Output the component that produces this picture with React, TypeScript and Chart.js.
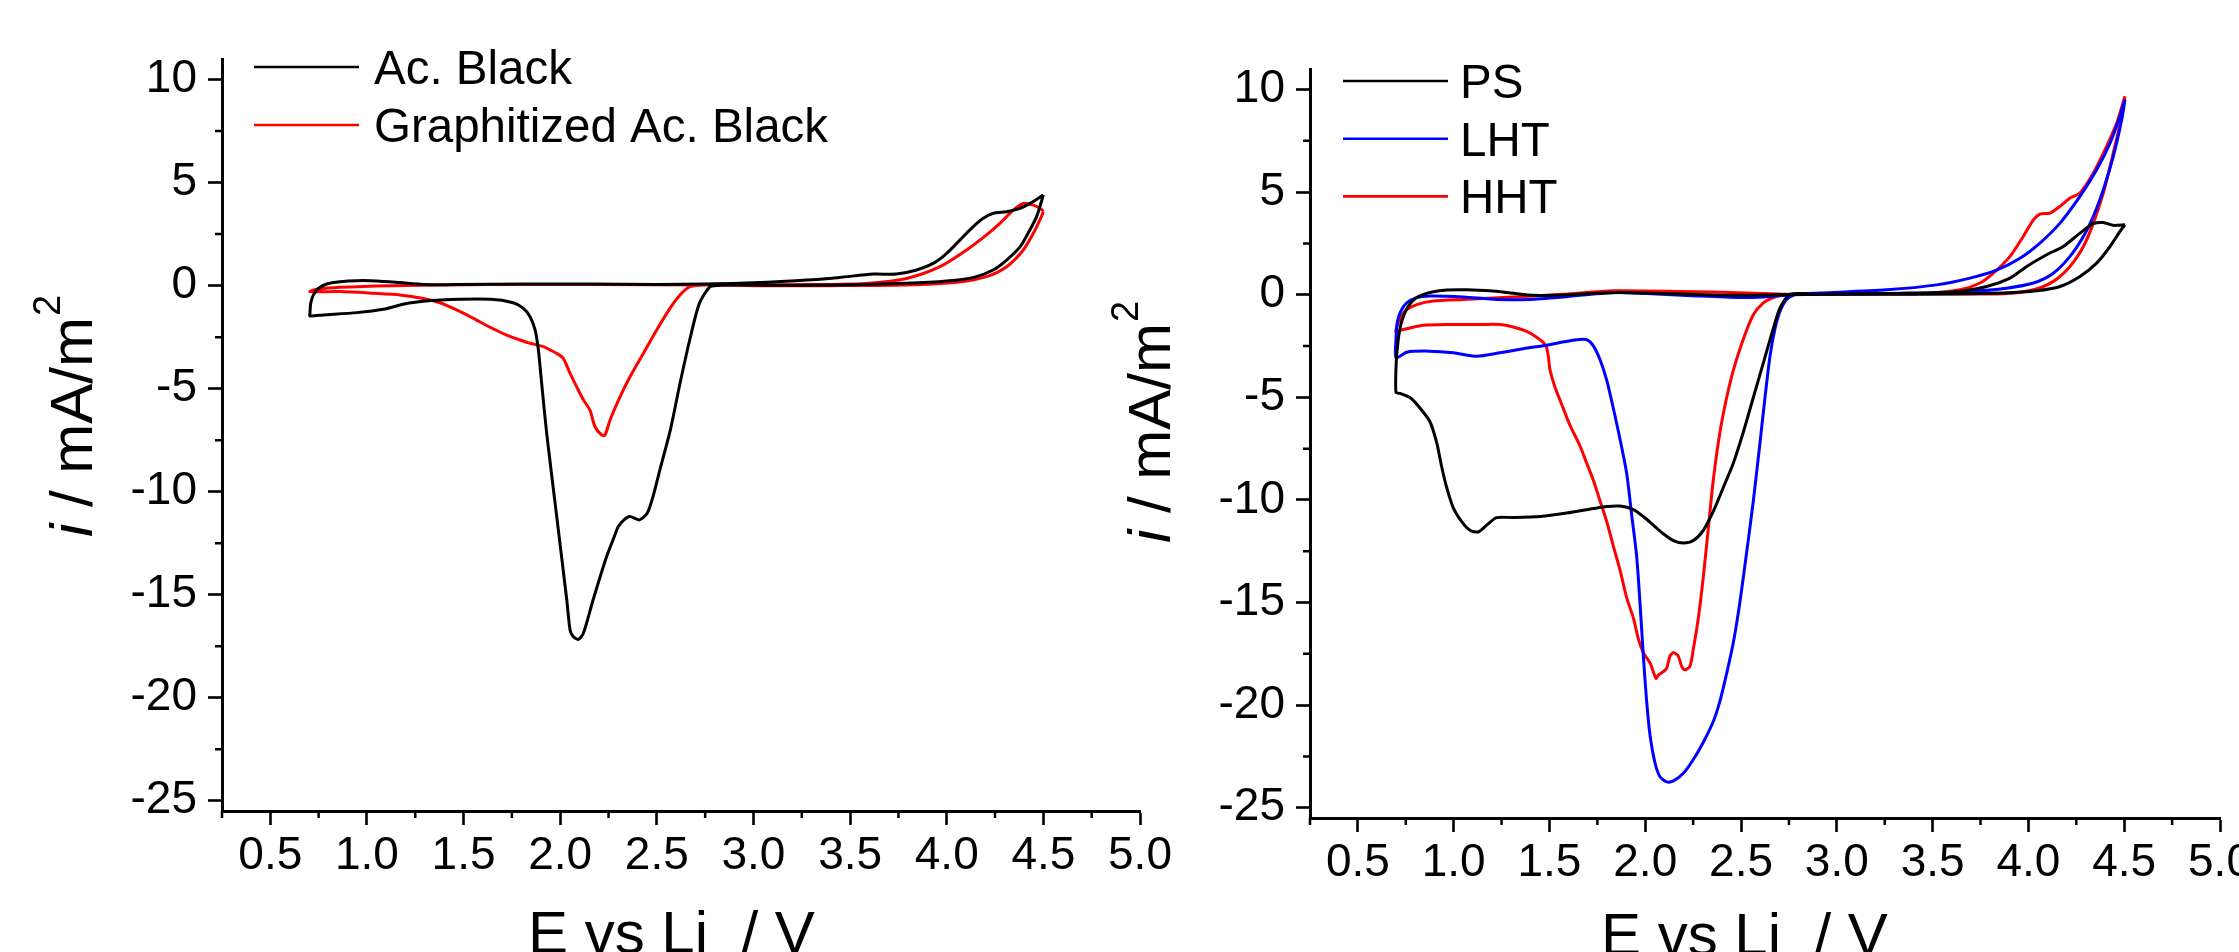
import React, { useEffect, useRef } from 'react';
import { Chart, registerables } from 'chart.js';

Chart.register(...registerables);

const FONT = "'Liberation Sans', Arial, Helvetica, sans-serif";

// ---------- tick values ----------
const xTickValues = [0.5, 1.0, 1.5, 2.0, 2.5, 3.0, 3.5, 4.0, 4.5, 5.0];
const xMinorValues = [0.25, 0.75, 1.25, 1.75, 2.25, 2.75, 3.25, 3.75, 4.25, 4.75];
const yTickValues = [-25, -20, -15, -10, -5, 0, 5, 10];
const yMinorValues = [-22.5, -17.5, -12.5, -7.5, -2.5, 2.5, 7.5];

type Pt = [number, number];

// ---------- left panel data (E / V, i / mA m^-2) ----------
const acBlack: Pt[] = [
  [4.5, 4.4], [4.49, 4.08], [4.465, 3.35], [4.43, 2.7], [4.38, 1.89], [4.31, 1.24],
  [4.24, 0.76], [4.14, 0.4], [4.0, 0.22], [3.79, 0.11], [3.45, 0.03], [3.1, 0.02],
  [2.84, 0.03], [2.81, 0.0], [2.775, -0.05], [2.72, -0.86], [2.67, -2.64], [2.62, -4.74],
  [2.57, -7.0], [2.52, -8.79], [2.48, -10.24], [2.45, -11.05], [2.41, -11.37], [2.36, -11.21],
  [2.33, -11.37], [2.3, -11.7], [2.28, -12.18], [2.24, -13.15], [2.17, -15.26], [2.12, -16.87],
  [2.094, -17.17], [2.068, -17.04], [2.051, -16.71], [2.034, -15.26], [1.982, -11.21],
  [1.93, -7.17], [1.904, -4.74], [1.887, -3.12], [1.87, -2.15], [1.844, -1.51], [1.81, -1.1],
  [1.757, -0.83], [1.64, -0.66], [1.38, -0.7], [1.21, -0.86], [1.085, -1.15], [0.947, -1.31],
  [0.774, -1.42], [0.705, -1.47], [0.705, -1.34], [0.709, -0.86], [0.723, -0.45],
  [0.749, -0.13], [0.792, 0.08], [0.861, 0.19], [0.947, 0.24], [1.05, 0.23], [1.171, 0.15],
  [1.292, 0.06], [1.464, 0.05], [1.809, 0.08], [2.154, 0.08], [2.5, 0.06], [2.93, 0.11],
  [3.275, 0.27], [3.447, 0.4], [3.62, 0.56], [3.74, 0.56], [3.844, 0.76], [3.93, 1.08],
  [4.0, 1.57], [4.068, 2.21], [4.137, 2.86], [4.189, 3.27], [4.241, 3.51], [4.31, 3.59],
  [4.379, 3.75], [4.431, 3.99], [4.482, 4.29], [4.5, 4.4],
];

const graphitized: Pt[] = [
  [4.5, 3.59], [4.49, 3.35], [4.448, 2.54], [4.396, 1.73], [4.31, 0.92], [4.206, 0.44],
  [4.051, 0.16], [3.79, 0.03], [3.4, 0.0], [3.0, 0.0], [2.758, 0.03], [2.672, -0.05],
  [2.62, -0.45], [2.568, -1.1], [2.499, -2.15], [2.43, -3.29], [2.361, -4.42], [2.31, -5.39],
  [2.258, -6.52], [2.232, -7.25], [2.215, -7.25], [2.18, -6.85], [2.154, -6.04], [2.12, -5.55],
  [2.085, -4.9], [2.051, -4.26], [2.016, -3.53], [1.982, -3.29], [1.947, -3.12], [1.913, -2.96],
  [1.844, -2.8], [1.792, -2.64], [1.723, -2.4], [1.637, -2.02], [1.551, -1.59], [1.464, -1.18],
  [1.378, -0.83], [1.292, -0.62], [1.171, -0.45], [1.033, -0.37], [0.861, -0.29], [0.705, -0.29],
  [0.74, -0.18], [0.86, -0.08], [1.12, 0.0], [1.637, 0.06], [2.2, 0.05], [2.8, 0.03],
  [3.3, 0.05], [3.6, 0.12], [3.792, 0.35], [3.965, 0.92], [4.103, 1.73], [4.206, 2.46],
  [4.275, 3.02], [4.344, 3.67], [4.396, 3.99], [4.448, 3.91], [4.491, 3.7], [4.5, 3.59],
];

// ---------- right panel data ----------
const ps: Pt[] = [
  [4.504, 3.41], [4.478, 3.09], [4.426, 2.35], [4.356, 1.54], [4.269, 0.89], [4.165, 0.4],
  [4.043, 0.19], [3.869, 0.08], [3.608, 0.03], [3.2, 0.02], [2.9, 0.02], [2.756, 0.02],
  [2.703, -0.65], [2.668, -1.66], [2.616, -3.33], [2.564, -5.01], [2.512, -6.69], [2.46, -8.2],
  [2.408, -9.38], [2.355, -10.56], [2.303, -11.48], [2.251, -11.98], [2.199, -12.1],
  [2.147, -11.98], [2.094, -11.65], [2.042, -11.23], [1.99, -10.81], [1.938, -10.47],
  [1.868, -10.3], [1.799, -10.32], [1.729, -10.42], [1.59, -10.64], [1.451, -10.81],
  [1.311, -10.86], [1.224, -10.86], [1.172, -11.23], [1.129, -11.56], [1.085, -11.48],
  [1.042, -11.06], [0.998, -10.39], [0.963, -9.38], [0.937, -8.37], [0.911, -7.2],
  [0.876, -6.19], [0.824, -5.52], [0.772, -5.01], [0.72, -4.81], [0.699, -4.76],
  [0.7, -3.33], [0.711, -2.16], [0.728, -1.32], [0.763, -0.56], [0.807, -0.14], [0.876, 0.11],
  [0.963, 0.23], [1.068, 0.24], [1.19, 0.19], [1.311, 0.07], [1.416, -0.03], [1.572, -0.01],
  [1.746, 0.07], [1.868, 0.11], [2.094, 0.06], [2.355, -0.01], [2.53, -0.03], [2.703, 0.0],
  [3.0, 0.03], [3.3, 0.06], [3.608, 0.13], [3.782, 0.4], [3.904, 0.81], [3.991, 1.38],
  [4.095, 1.95], [4.182, 2.35], [4.269, 3.0], [4.339, 3.46], [4.391, 3.52], [4.443, 3.38],
  [4.504, 3.41],
];

const lht: Pt[] = [
  [4.504, 9.51], [4.487, 8.53], [4.443, 6.74], [4.391, 5.12], [4.339, 3.82], [4.287, 2.84],
  [4.217, 1.87], [4.13, 1.05], [4.026, 0.57], [3.886, 0.32], [3.695, 0.16], [3.434, 0.08],
  [3.1, 0.04], [2.85, 0.02], [2.79, 0.02], [2.738, -0.23], [2.703, -0.82], [2.677, -1.66],
  [2.651, -3.0], [2.625, -5.01], [2.599, -7.2], [2.564, -10.05], [2.529, -12.57],
  [2.495, -14.92], [2.46, -16.94], [2.425, -18.45], [2.39, -19.79], [2.355, -20.8],
  [2.303, -21.81], [2.251, -22.65], [2.199, -23.32], [2.147, -23.69], [2.112, -23.74],
  [2.077, -23.49], [2.051, -22.82], [2.025, -21.47], [2.007, -19.79], [1.99, -17.61],
  [1.973, -15.09], [1.955, -12.74], [1.929, -10.72], [1.903, -8.71], [1.868, -7.03],
  [1.833, -5.52], [1.799, -4.17], [1.764, -3.17], [1.729, -2.49], [1.694, -2.19],
  [1.642, -2.19], [1.555, -2.33], [1.485, -2.46], [1.364, -2.63], [1.242, -2.83], [1.12, -3.0],
  [0.998, -2.83], [0.876, -2.75], [0.755, -2.8], [0.699, -3.08], [0.699, -2.16], [0.706, -1.32],
  [0.723, -0.82], [0.755, -0.4], [0.807, -0.14], [0.876, -0.06], [1.05, -0.11], [1.224, -0.23],
  [1.398, -0.23], [1.572, -0.11], [1.833, 0.11], [2.007, 0.06], [2.268, -0.06], [2.495, -0.14],
  [2.616, -0.11], [2.79, 0.02], [2.912, 0.08], [3.26, 0.24], [3.521, 0.48], [3.695, 0.81],
  [3.834, 1.2], [3.956, 1.78], [4.06, 2.52], [4.165, 3.49], [4.269, 4.79], [4.356, 6.09],
  [4.426, 7.39], [4.478, 8.7], [4.504, 9.51],
];

const hht: Pt[] = [
  [4.504, 9.67], [4.487, 8.69], [4.443, 6.91], [4.391, 4.96], [4.339, 3.49], [4.287, 2.35],
  [4.217, 1.38], [4.13, 0.65], [4.026, 0.24], [3.869, 0.05], [3.434, 0.05], [3.0, 0.05],
  [2.738, 0.02], [2.668, -0.14], [2.616, -0.4], [2.564, -0.98], [2.512, -2.16], [2.46, -3.67],
  [2.425, -5.01], [2.39, -6.69], [2.355, -9.04], [2.329, -11.4], [2.303, -13.75],
  [2.277, -15.76], [2.251, -17.27], [2.233, -18.11], [2.207, -18.28], [2.19, -18.11],
  [2.172, -17.61], [2.147, -17.44], [2.129, -17.61], [2.112, -18.2], [2.094, -18.37],
  [2.068, -18.54], [2.056, -18.7], [2.042, -18.37], [2.025, -17.94], [1.99, -17.44],
  [1.964, -16.77], [1.938, -15.76], [1.903, -14.76], [1.868, -13.41], [1.833, -12.24],
  [1.799, -11.06], [1.764, -10.05], [1.729, -9.04], [1.694, -8.2], [1.659, -7.36],
  [1.607, -6.36], [1.564, -5.35], [1.529, -4.51], [1.503, -3.67], [1.494, -3.0], [1.485, -2.58],
  [1.468, -2.33], [1.433, -2.07], [1.381, -1.79], [1.311, -1.57], [1.242, -1.45], [1.137, -1.45],
  [0.963, -1.45], [0.842, -1.49], [0.772, -1.62], [0.72, -1.74], [0.699, -1.82], [0.7, -1.66],
  [0.72, -1.15], [0.755, -0.73], [0.807, -0.48], [0.894, -0.31], [1.05, -0.23], [1.311, -0.11],
  [1.572, 0.02], [1.833, 0.19], [2.181, 0.16], [2.53, 0.09], [2.738, 0.02], [3.2, 0.03],
  [3.434, 0.05], [3.643, 0.24], [3.747, 0.57], [3.817, 1.05], [3.904, 1.87], [3.973, 2.84],
  [4.026, 3.65], [4.06, 3.93], [4.113, 3.98], [4.165, 4.31], [4.217, 4.71], [4.269, 4.96],
  [4.339, 5.93], [4.408, 7.23], [4.461, 8.37], [4.504, 9.67],
];

const leftLabels = ['Ac. Black', 'Graphitized Ac. Black'];
const rightLabels = ['PS', 'LHT', 'HHT'];

// ---------- layout ----------
const CANVAS_W = 2300;
const CANVAS_H = 952;

interface Series { label: string; color: string; points: Pt[] }
interface Layout {
  padLeft: number; yAxisWidth: number; padRight: number; padTop: number; xAxisHeight: number;
  legendX: number; legendTextX: number; legendY: number; legendGap: number;
  yTitleX: number; yTitleY: number; xTitleX: number; xTitleY: number;
}

const leftLayout: Layout = {
  padLeft: 0, yAxisWidth: 222, padRight: CANVAS_W - 1140, padTop: 59, xAxisHeight: CANVAS_H - 811,
  legendX: 254, legendTextX: 374, legendY: 67, legendGap: 58,
  yTitleX: 92, yTitleY: 537, xTitleX: 528, xTitleY: 953,
};
const rightLayout: Layout = {
  padLeft: 1150, yAxisWidth: 160, padRight: CANVAS_W - 2220, padTop: 69, xAxisHeight: CANVAS_H - 818,
  legendX: 1343, legendTextX: 1460, legendY: 81, legendGap: 57.7,
  yTitleX: 1170, yTitleY: 543, xTitleX: 1601, xTitleY: 955,
};

const leftSeries: Series[] = [
  { label: leftLabels[0], color: '#000000', points: acBlack },
  { label: leftLabels[1], color: '#ff0000', points: graphitized },
];
const rightSeries: Series[] = [
  { label: rightLabels[0], color: '#000000', points: ps },
  { label: rightLabels[1], color: '#0000ff', points: lht },
  { label: rightLabels[2], color: '#ff0000', points: hht },
];

function makeDecorPlugin(layout: Layout, series: Series[]) {
  return {
    id: 'decor',
    afterDraw(chart: any) {
      const ctx: CanvasRenderingContext2D = chart.ctx;
      const xs = chart.scales.x;
      const ys = chart.scales.y;
      const area = chart.chartArea;
      ctx.save();
      // minor ticks
      ctx.strokeStyle = '#000';
      ctx.lineWidth = 2.5;
      ctx.beginPath();
      xMinorValues.forEach((v) => {
        const px = xs.getPixelForValue(v);
        ctx.moveTo(px, area.bottom);
        ctx.lineTo(px, area.bottom + 7);
      });
      yMinorValues.forEach((v) => {
        const py = ys.getPixelForValue(v);
        ctx.moveTo(area.left - 7, py);
        ctx.lineTo(area.left, py);
      });
      ctx.stroke();

      // legend
      ctx.font = `47.5px ${FONT}`;
      ctx.textAlign = 'left';
      ctx.textBaseline = 'alphabetic';
      series.forEach((s, k) => {
        const y = layout.legendY + k * layout.legendGap;
        ctx.strokeStyle = s.color;
        ctx.lineWidth = 2.6;
        ctx.beginPath();
        ctx.moveTo(layout.legendX, y);
        ctx.lineTo(layout.legendX + 105, y);
        ctx.stroke();
        ctx.fillStyle = '#000';
        ctx.fillText(s.label, layout.legendTextX, y + 17);
      });

      // y title
      ctx.save();
      ctx.translate(layout.yTitleX, layout.yTitleY);
      ctx.rotate(-Math.PI / 2);
      ctx.fillStyle = '#000';
      let tx = 0;
      ctx.font = `italic 60px ${FONT}`;
      ctx.fillText('i', tx, 0);
      tx += ctx.measureText('i').width;
      ctx.font = `60px ${FONT}`;
      const t = ' / mA/m';
      ctx.fillText(t, tx, 0);
      tx += ctx.measureText(t).width;
      ctx.font = `38px ${FONT}`;
      ctx.fillText('2', tx + 1, -32);
      ctx.restore();

      // x title
      ctx.font = `60px ${FONT}`;
      ctx.fillStyle = '#000';
      ctx.fillText('E vs Li  / V', layout.xTitleX, layout.xTitleY);
      ctx.restore();
    },
  };
}

function CvPanel({ layout, series }: { layout: Layout; series: Series[] }) {
  const ref = useRef<HTMLCanvasElement | null>(null);
  useEffect(() => {
    if (!ref.current) return;
    const tickFont = { family: FONT, size: 46 };
    const chart = new Chart(ref.current, {
      type: 'scatter',
      data: {
        datasets: series.map((s) => ({
          label: s.label,
          data: s.points.map(([x, y]) => ({ x, y })),
          showLine: true,
          borderColor: s.color,
          backgroundColor: s.color,
          borderWidth: 3,
          pointRadius: 0,
          pointHoverRadius: 0,
          fill: false,
          tension: 0.25,
        })),
      },
      options: {
        animation: false,
        responsive: false,
        events: [],
        layout: {
          padding: { left: layout.padLeft, right: layout.padRight, top: layout.padTop, bottom: 0 },
        },
        plugins: { legend: { display: false }, tooltip: { enabled: false }, title: { display: false } },
        scales: {
          x: {
            type: 'linear',
            min: 0.25,
            max: 5.0,
            afterBuildTicks: (axis: any) => {
              axis.ticks = xTickValues.map((value) => ({ value }));
            },
            afterFit: (axis: any) => {
              axis.height = layout.xAxisHeight;
            },
            ticks: {
              callback: (v: any) => Number(v).toFixed(1),
              font: tickFont,
              color: '#000',
              padding: 4,
              maxRotation: 0,
              minRotation: 0,
              autoSkip: false,
            },
            grid: {
              display: true,
              drawOnChartArea: false,
              drawTicks: true,
              tickLength: 14,
              tickWidth: 2.6,
              tickColor: '#000',
              color: '#000',
            },
            border: { display: true, color: '#000', width: 3 },
          },
          y: {
            type: 'linear',
            min: -25.5,
            max: 11,
            afterBuildTicks: (axis: any) => {
              axis.ticks = yTickValues.map((value) => ({ value }));
            },
            afterFit: (axis: any) => {
              axis.width = layout.yAxisWidth;
            },
            ticks: {
              callback: (v: any) => String(v),
              font: tickFont,
              color: '#000',
              padding: 11,
              autoSkip: false,
            },
            grid: {
              display: true,
              drawOnChartArea: false,
              drawTicks: true,
              tickLength: 14,
              tickWidth: 2.6,
              tickColor: '#000',
              color: '#000',
            },
            border: { display: true, color: '#000', width: 3 },
          },
        },
      } as any,
      plugins: [makeDecorPlugin(layout, series)],
    });
    return () => chart.destroy();
  }, [layout, series]);
  return (
    <canvas
      ref={ref}
      width={CANVAS_W}
      height={CANVAS_H}
      style={{ position: 'absolute', left: 0, top: 0, width: CANVAS_W, height: CANVAS_H }}
    />
  );
}

export default function App() {
  return (
    <div
      style={{
        position: 'fixed',
        left: 0,
        top: 0,
        width: 2239,
        height: 952,
        overflow: 'hidden',
        background: '#ffffff',
      }}
    >
      <CvPanel layout={leftLayout} series={leftSeries} />
      <CvPanel layout={rightLayout} series={rightSeries} />
    </div>
  );
}
